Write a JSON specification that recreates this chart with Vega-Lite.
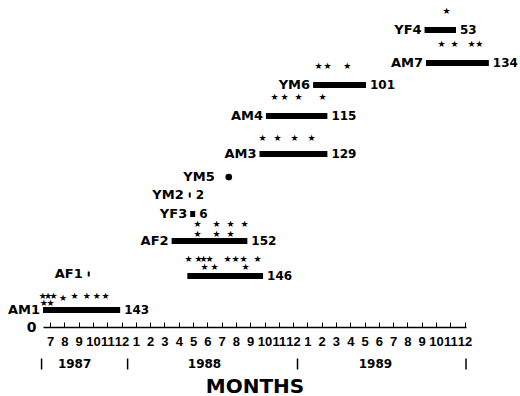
{
  "$schema": "https://vega.github.io/schema/vega-lite/v6.json",
  "width": 423,
  "height": 327,
  "autosize": {"type": "none"},
  "padding": {"left": 43, "top": 0, "right": 54, "bottom": 69},
  "background": "white",
  "config": {
    "view": {"stroke": null},
    "font": "DejaVu Sans",
    "text": {"font": "DejaVu Sans", "fontWeight": "bold", "color": "black", "baseline": "middle"}
  },
  "datasets": {
    "bars": [
      {"id": "AM1", "t": -0.5, "end": 4.9, "row": 1.7, "n": "143"},
      {"id": "", "t": 9.6, "end": 14.9, "row": 5.1, "n": "146"},
      {"id": "AF2", "t": 8.5, "end": 13.8, "row": 8.6, "n": "152"},
      {"id": "YF3", "t": 9.8, "end": 10.15, "row": 11.3, "n": "6"},
      {"id": "AM3", "t": 14.65, "end": 19.4, "row": 17.3, "n": "129"},
      {"id": "AM4", "t": 15.1, "end": 19.4, "row": 21.1, "n": "115"},
      {"id": "YM6", "t": 18.4, "end": 22.1, "row": 24.2, "n": "101"},
      {"id": "AM7", "t": 26.3, "end": 30.7, "row": 26.4, "n": "134"},
      {"id": "YF4", "t": 26.2, "end": 28.4, "row": 29.7, "n": "53"}
    ],
    "singles": [
      {"id": "AF1", "t": 2.7, "row": 5.3, "n": ""},
      {"id": "YM2", "t": 9.77, "row": 13.2, "n": "2"}
    ],
    "dots": [
      {"id": "YM5", "t": 12.5, "row": 15.0}
    ],
    "stars": [
      {"t": -0.52, "row": 3.1}, {"t": -0.15, "row": 3.1}, {"t": 0.24, "row": 3.1}, {"t": 0.9, "row": 2.9},
      {"t": 1.71, "row": 3.1}, {"t": 2.57, "row": 3.1}, {"t": 3.27, "row": 3.1}, {"t": 3.88, "row": 3.1},
      {"t": -0.45, "row": 2.4}, {"t": 0.03, "row": 2.4},
      {"t": 9.69, "row": 6.8}, {"t": 10.38, "row": 6.8}, {"t": 10.73, "row": 6.8}, {"t": 11.15, "row": 6.8},
      {"t": 12.41, "row": 6.8}, {"t": 12.97, "row": 6.8}, {"t": 13.53, "row": 6.8}, {"t": 14.51, "row": 6.8},
      {"t": 10.8, "row": 6.0}, {"t": 11.5, "row": 6.0}, {"t": 13.67, "row": 6.0},
      {"t": 10.31, "row": 10.3}, {"t": 11.64, "row": 10.3}, {"t": 12.62, "row": 10.3}, {"t": 13.6, "row": 10.3},
      {"t": 10.31, "row": 9.3}, {"t": 11.64, "row": 9.3}, {"t": 12.62, "row": 9.3},
      {"t": 14.86, "row": 18.9}, {"t": 15.91, "row": 18.9}, {"t": 17.1, "row": 18.9}, {"t": 18.29, "row": 18.9},
      {"t": 15.7, "row": 23.0}, {"t": 16.4, "row": 23.0}, {"t": 17.38, "row": 23.0}, {"t": 19.06, "row": 23.0},
      {"t": 18.78, "row": 26.1}, {"t": 19.41, "row": 26.1}, {"t": 20.8, "row": 26.1},
      {"t": 27.38, "row": 28.3}, {"t": 28.29, "row": 28.3}, {"t": 29.48, "row": 28.3}, {"t": 30.03, "row": 28.3},
      {"t": 27.73, "row": 31.6}
    ],
    "years": [
      {"label": "1987", "t": 1.71, "row": -3.7},
      {"label": "1988", "t": 10.8, "row": -3.7},
      {"label": "1989", "t": 22.76, "row": -3.7}
    ],
    "seps": [
      {"t": -0.6, "row": -3.7},
      {"t": 5.42, "row": -3.7},
      {"t": 17.31, "row": -3.7},
      {"t": 29.1, "row": -3.7}
    ]
  },
  "encoding": {
    "x": {
      "field": "t",
      "type": "quantitative",
      "title": "MONTHS",
      "scale": {"domain": [-0.5, 29.1], "nice": false, "zero": false},
      "axis": {
        "title": "MONTHS",
        "titleFont": "DejaVu Sans",
        "titleFontSize": 20,
        "titleFontWeight": "bold",
        "titleColor": "black",
        "titlePadding": 28,
        "values": [0,1,2,3,4,5,6,7,8,9,10,11,12,13,14,15,16,17,18,19,20,21,22,23,24,25,26,27,28,29],
        "labelExpr": "(datum.value + 6) % 12 + 1",
        "labelFont": "Liberation Sans",
        "labelFontSize": 13,
        "labelFontWeight": "bold",
        "labelColor": "black",
        "labelOverlap": false,
        "labelFlush": false,
        "labelBound": false,
        "labelPadding": 13,
        "tickSize": -5,
        "tickColor": "black",
        "tickWidth": 1,
        "domainColor": "black",
        "domainWidth": 1.5,
        "grid": false
      }
    },
    "y": {
      "field": "row",
      "type": "quantitative",
      "title": null,
      "scale": {"domain": [0, 32.7], "nice": false},
      "axis": {
        "title": null,
        "values": [0],
        "domain": false,
        "ticks": false,
        "grid": false,
        "labelFont": "DejaVu Sans",
        "labelFontSize": 14,
        "labelFontWeight": "bold",
        "labelColor": "black",
        "labelPadding": 7
      }
    }
  },
  "layer": [
    {
      "data": {"name": "bars"},
      "mark": {"type": "rule", "strokeWidth": 6, "strokeCap": "butt", "color": "black"},
      "encoding": {"x2": {"field": "end"}}
    },
    {
      "data": {"name": "bars"},
      "transform": [{"filter": "datum.id != ''"}],
      "mark": {"type": "text", "align": "right", "dx": -3, "fontSize": 13, "color": "black"},
      "encoding": {"text": {"field": "id"}}
    },
    {
      "data": {"name": "bars"},
      "mark": {"type": "text", "align": "left", "dx": 4, "fontSize": 12, "color": "black"},
      "encoding": {
        "x": {"field": "end", "type": "quantitative", "title": "MONTHS", "scale": {"domain": [-0.5, 29.1], "nice": false, "zero": false}},
        "text": {"field": "n"}
      }
    },
    {
      "data": {"name": "singles"},
      "mark": {"type": "tick", "orient": "vertical", "size": 5, "thickness": 2, "color": "black", "opacity": 1},
      "encoding": {}
    },
    {
      "data": {"name": "singles"},
      "mark": {"type": "text", "align": "right", "dx": -6, "fontSize": 13, "color": "black"},
      "encoding": {"text": {"field": "id"}}
    },
    {
      "data": {"name": "singles"},
      "mark": {"type": "text", "align": "left", "dx": 6, "fontSize": 12, "color": "black"},
      "encoding": {"text": {"field": "n"}}
    },
    {
      "data": {"name": "dots"},
      "mark": {"type": "point", "filled": true, "size": 45, "color": "black", "opacity": 1},
      "encoding": {}
    },
    {
      "data": {"name": "dots"},
      "mark": {"type": "text", "align": "right", "dx": -14, "fontSize": 13, "color": "black"},
      "encoding": {"text": {"field": "id"}}
    },
    {
      "data": {"name": "stars"},
      "mark": {"type": "text", "fontSize": 9, "fontWeight": "normal", "align": "center", "text": "★", "color": "black"},
      "encoding": {}
    },
    {
      "data": {"name": "years"},
      "mark": {"type": "text", "fontSize": 12, "align": "center", "color": "black"},
      "encoding": {"text": {"field": "label"}}
    },
    {
      "data": {"name": "seps"},
      "mark": {"type": "tick", "orient": "vertical", "size": 11, "thickness": 1.5, "color": "black", "opacity": 1},
      "encoding": {}
    }
  ]
}
